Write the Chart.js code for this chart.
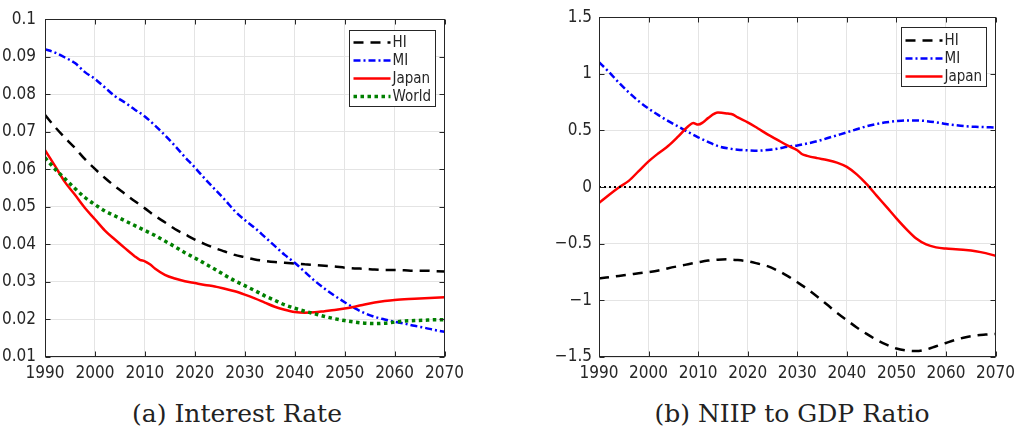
<!DOCTYPE html>
<html><head><meta charset="utf-8">
<script src="https://cdn.jsdelivr.net/npm/chart.js@4.4.1/dist/chart.umd.min.js"></script>
<style>
html,body{margin:0;padding:0;background:#fff;width:1021px;height:432px;overflow:hidden;}
.box{position:absolute;}
.cap{position:absolute;font-family:"DejaVu Serif",serif;font-size:25px;color:#222;white-space:nowrap;line-height:25px;transform:translateX(-50%);}
</style></head><body>
<div class="box" style="left:0;top:0;width:470px;height:390px"><canvas id="c1"></canvas></div>
<div class="box" style="left:530px;top:0;width:491px;height:390px"><canvas id="c2"></canvas></div>
<div class="cap" style="left:237px;top:401px">(a) Interest Rate</div>
<div class="cap" style="left:792px;top:401px">(b) NIIP to GDP Ratio</div>
<script>
// ---------- data ----------
const years2 = [1990,1992,1994,1996,1998,2000,2002,2004,2006,2008,2010,2012,2014,2016,2018,2020,2022,2024,2026,2028,2030,2032,2034,2036,2038,2040,2042,2044,2046,2048,2050,2052,2054,2056,2058,2060,2062,2064,2066,2068,2070];

// (a) Interest rate
const rateHI = [0.0745,0.0713,0.0684,0.0657,0.0627,0.0601,0.0577,0.0555,0.0535,0.0515,0.0496,0.0476,0.0459,0.0441,0.0427,0.0413,0.0401,0.0390,0.0381,0.0372,0.0366,0.0360,0.0356,0.0353,0.0351,0.0349,0.0347,0.0345,0.0343,0.0341,0.0338,0.0336,0.0335,0.0333,0.0332,0.0332,0.0331,0.0330,0.0330,0.0329,0.0328];
const rateMI = [0.0920,0.0911,0.0898,0.0883,0.0859,0.0841,0.0818,0.0795,0.0778,0.0759,0.0741,0.0717,0.0691,0.0663,0.0633,0.0605,0.0575,0.0547,0.0519,0.0489,0.0465,0.0444,0.0420,0.0396,0.0372,0.0351,0.0327,0.0303,0.0282,0.0263,0.0246,0.0230,0.0217,0.0207,0.0200,0.0194,0.0189,0.0183,0.0178,0.0172,0.0167];
const rateWorld = [0.0631,0.0601,0.0575,0.0549,0.0525,0.0506,0.0489,0.0476,0.0463,0.0450,0.0437,0.0424,0.0409,0.0394,0.0378,0.0364,0.0349,0.0334,0.0318,0.0303,0.0290,0.0277,0.0263,0.0251,0.0239,0.0230,0.0222,0.0215,0.0208,0.0202,0.0197,0.0193,0.0190,0.0189,0.0190,0.0193,0.0196,0.0197,0.0198,0.0199,0.0199];
const rateJapanYears = [1990,1992,1994,1996,1998,2000,2002,2004,2006,2008,2009,2010,2011,2012,2014,2016,2018,2020,2022,2024,2026,2028,2030,2032,2034,2036,2038,2040,2042,2044,2046,2048,2050,2052,2054,2056,2058,2060,2064,2067,2070];
const rateJapan = [0.0651,0.0609,0.0566,0.0532,0.0497,0.0467,0.0437,0.0413,0.0390,0.0368,0.0359,0.0355,0.0347,0.0336,0.0319,0.0309,0.0302,0.0297,0.0292,0.0288,0.0282,0.0275,0.0266,0.0256,0.0245,0.0234,0.0226,0.0220,0.0218,0.0219,0.0222,0.0225,0.0229,0.0234,0.0240,0.0245,0.0249,0.0252,0.0255,0.0257,0.0259];

// (b) NIIP to GDP ratio
const niipHI = [-0.805,-0.796,-0.784,-0.773,-0.761,-0.750,-0.736,-0.716,-0.698,-0.681,-0.664,-0.649,-0.641,-0.638,-0.644,-0.655,-0.675,-0.698,-0.736,-0.784,-0.840,-0.899,-0.966,-1.037,-1.109,-1.175,-1.239,-1.296,-1.348,-1.391,-1.425,-1.443,-1.448,-1.434,-1.405,-1.376,-1.348,-1.325,-1.310,-1.302,-1.296];
const niipMI = [1.103,1.017,0.922,0.836,0.759,0.693,0.635,0.583,0.534,0.486,0.440,0.399,0.362,0.342,0.330,0.325,0.322,0.328,0.339,0.356,0.368,0.385,0.405,0.431,0.457,0.483,0.511,0.537,0.557,0.572,0.583,0.589,0.589,0.583,0.572,0.557,0.546,0.537,0.532,0.529,0.526];
const niipJapanYears = [1990,1992,1994,1996,1998,2000,2002,2004,2006,2008,2009,2010,2011,2012,2014,2016,2017,2018,2020,2022,2024,2026,2028,2030,2031,2032,2034,2036,2038,2040,2042,2044,2046,2048,2050,2052,2054,2056,2058,2060,2062,2064,2066,2068,2070];
const niipJapan = [-0.141,-0.069,-0.003,0.055,0.141,0.227,0.299,0.365,0.448,0.537,0.566,0.552,0.572,0.609,0.658,0.649,0.641,0.615,0.572,0.520,0.466,0.417,0.368,0.325,0.290,0.276,0.256,0.239,0.216,0.178,0.112,0.026,-0.075,-0.175,-0.276,-0.371,-0.454,-0.506,-0.532,-0.543,-0.549,-0.555,-0.566,-0.583,-0.606];
const zeroLineYears = [1990,2070];
const zeroLine = [0,0];

const xTicks = [1990,2000,2010,2020,2030,2040,2050,2060,2070];

// ---------- helpers ----------
const FONT = '"Liberation Sans Narrow","Arial Narrow","DejaVu Sans Condensed","Liberation Sans",sans-serif';
Chart.defaults.font.family = FONT;
Chart.defaults.color = '#262626';
const pts = (xs, ys) => xs.map((x, i) => ({x: x, y: ys[i]}));

const STY = {
  HI:    {borderColor:'#000000', borderWidth:2.5, borderDash:[10,7]},
  MI:    {borderColor:'#0000ff', borderWidth:2.5, borderDash:[7,3,2,3]},
  Japan: {borderColor:'#ff0000', borderWidth:2.5, borderDash:[]},
  World: {borderColor:'#008000', borderWidth:3.5, borderDash:[3.5,3.5]}
};
function ds(label, xs, ys, order, legend) {
  return Object.assign({label: label, data: pts(xs, ys), pointRadius:0, fill:false,
    cubicInterpolationMode:'monotone', borderCapStyle:'butt', order: order, showInBox: legend !== false}, STY[label] || {});
}

const framePlugin = {
  id:'frame',
  afterDatasetsDraw(chart) {
    const ctx = chart.ctx, a = chart.chartArea;
    const L = Math.round(a.left)+0.5, R = Math.round(a.right)-0.5, T = Math.round(a.top)+0.5, B = Math.round(a.bottom)-0.5;
    ctx.save();
    ctx.strokeStyle = '#262626'; ctx.lineWidth = 1;
    ctx.strokeRect(L, T, R-L, B-T);
    const tl = 5;
    ctx.beginPath();
    chart.scales.x.ticks.forEach(t => {
      const px = Math.round(chart.scales.x.getPixelForValue(t.value))+0.5;
      ctx.moveTo(px, B); ctx.lineTo(px, B-tl);
      ctx.moveTo(px, T); ctx.lineTo(px, T+tl);
    });
    chart.scales.y.ticks.forEach(t => {
      const py = Math.round(chart.scales.y.getPixelForValue(t.value))+0.5;
      ctx.moveTo(L, py); ctx.lineTo(L+tl, py);
      ctx.moveTo(R, py); ctx.lineTo(R-tl, py);
    });
    ctx.stroke();
    ctx.restore();
  },
  afterDraw(chart) {
    const cfg = chart.options.plugins.boxLegend;
    if (!cfg) return;
    const ctx = chart.ctx, a = chart.chartArea;
    const items = chart.data.datasets.filter(d => d.showInBox);
    const x0 = Math.round(a.right - cfg.dx) + 0.5, y0 = Math.round(a.top + cfg.dy) + 0.5;
    const h = cfg.pad*2 + cfg.row*(items.length-1) + 0;
    ctx.save();
    ctx.fillStyle = '#ffffff';
    ctx.fillRect(x0, y0, cfg.w, cfg.h);
    ctx.strokeStyle = '#262626'; ctx.lineWidth = 1;
    ctx.strokeRect(x0, y0, cfg.w, cfg.h);
    ctx.font = '15px ' + FONT;
    ctx.textBaseline = 'middle';
    ctx.textAlign = 'left';
    items.forEach((d, i) => {
      const cy = y0 + cfg.first + i*cfg.row;
      ctx.save();
      ctx.strokeStyle = d.borderColor; ctx.lineWidth = d.borderWidth;
      ctx.setLineDash(d.borderDash || []); ctx.lineCap = 'butt';
      ctx.beginPath(); ctx.moveTo(x0+4, cy); ctx.lineTo(x0+41, cy); ctx.stroke();
      ctx.restore();
      ctx.fillStyle = '#262626';
      ctx.fillText(d.label, x0+43, cy+1);
    });
    ctx.restore();
  }
};

function makeChart(id, datasets, yMin, yMax, yStep, yFmt, yWidth, yPad, padRight, legendCfg) {
  return new Chart(document.getElementById(id), {
    type:'line',
    data:{datasets: datasets},
    options:{
      responsive:true, maintainAspectRatio:false, animation:false,
      layout:{padding:{top:9, right:padRight, left:0, bottom:0}},
      plugins:{legend:{display:false}, tooltip:{enabled:false}, boxLegend: legendCfg},
      scales:{
        x:{type:'linear', min:1990, max:2070,
           afterBuildTicks: s => { s.ticks = xTicks.map(v => ({value:v})); },
           ticks:{callback: v => String(v), padding:6, font:{size:17}, maxRotation:0, autoSkip:false, color:'#262626'},
           grid:{color:'#e4e4e4', lineWidth:1, drawTicks:false},
           border:{display:false},
           afterFit: s => { s.height = 33; }},
        y:{type:'linear', min:yMin, max:yMax,
           ticks:{stepSize:yStep, callback: yFmt, padding:yPad, font:{size:17}, color:'#262626'},
           grid:{color:'#e4e4e4', lineWidth:1, drawTicks:false},
           border:{display:false},
           afterFit: s => { s.width = yWidth; }}
      }
    },
    plugins:[framePlugin]
  });
}

makeChart('c1', [
  ds('HI', years2, rateHI, 4),
  ds('MI', years2, rateMI, 3),
  ds('Japan', rateJapanYears, rateJapan, 2),
  ds('World', years2, rateWorld, 1)
], 0.01, 0.1, 0.01, v => String(Math.round(v*1000)/1000), 45, 9, 24,
  {dx:96, dy:11, w:86, h:76, first:12, row:18, pad:0});

const zero = {label:'zero', data: pts(zeroLineYears, zeroLine), pointRadius:0, fill:false,
  borderColor:'#000000', borderWidth:2, borderDash:[2,3], borderCapStyle:'butt', order:0, showInBox:false};

makeChart('c2', [
  ds('HI', years2, niipHI, 3),
  ds('MI', years2, niipMI, 2),
  ds('Japan', niipJapanYears, niipJapan, 1),
  zero
], -1.5, 1.5, 0.5, v => { const r = Math.round(v*10)/10; return r < 0 ? '\u2212' + String(-r) : String(r); }, 69, 7, 20,
  {dx:95, dy:10, w:85, h:59, first:13, row:18, pad:0});
</script>
</body></html>
